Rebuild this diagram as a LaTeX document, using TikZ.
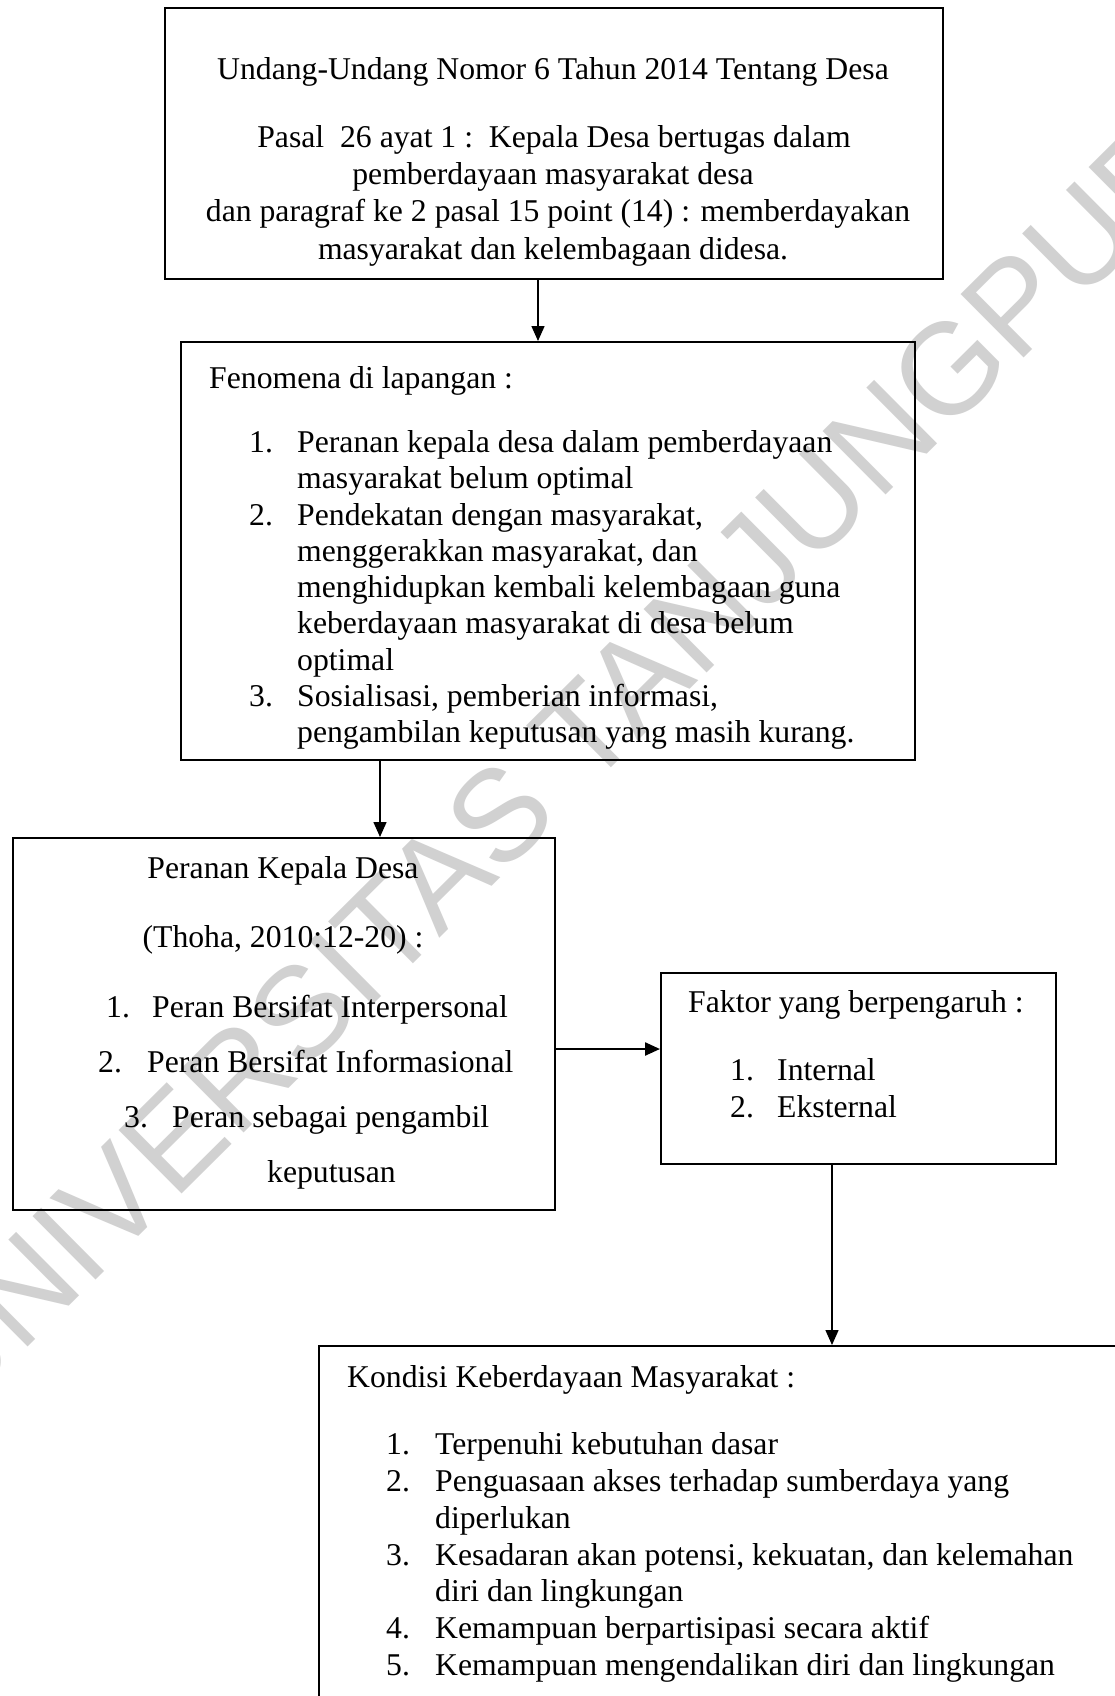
\documentclass[tikz,border=0pt]{standalone}
\usepackage{fontspec}
\setmainfont{Liberation Serif}
\newfontfamily\wmfont{Liberation Sans}
\usetikzlibrary{arrows.meta}
\definecolor{wm}{gray}{0.82}
\begin{document}
\begin{tikzpicture}[x=1pt,y=-1pt,
  box/.style={draw=black, line width=1.7pt, rectangle, inner sep=0pt, anchor=north west},
  txt/.style={inner sep=0pt, anchor=base, font=\fontsize{31.7}{36.5}\selectfont},
  ltxt/.style={txt, anchor=base west},
  arr/.style={line width=1.5pt, -{Triangle[length=15pt,width=13pt]}},
]
\useasboundingbox (0,0) rectangle (1115,1696);
\clip (0,0) rectangle (1115,1696);
\fill[white] (0,0) rectangle (1115,1696);

% watermark
\node[inner sep=0pt, rotate=44.8, text=wm, font=\wmfont\fontsize{130}{130}\selectfont] (wmk) at (582,734) {UNIVERSITAS TANJUNGPURA};

% boxes
\node[box, minimum width=778pt, minimum height=271pt] (b1) at (164,7) {};
\node[box, minimum width=734pt, minimum height=418pt] (b2) at (180,341) {};
\node[box, minimum width=542pt, minimum height=372pt] (b3) at (12,837) {};
\node[box, minimum width=395pt, minimum height=191pt] (b4) at (660,972) {};
\node[box, line width=2.1pt, minimum width=850pt, minimum height=400pt] (b5) at (318,1345) {};

% box 1 text
\node[txt] (t1a) at (553,80) {Undang-Undang Nomor 6 Tahun 2014 Tentang Desa};
\node[txt] (t1b) at (554,148) {Pasal\ \ 26 ayat 1 :\ \ Kepala Desa bertugas dalam};
\node[txt] (t1c) at (553,185) {pemberdayaan masyarakat desa};
\node[txt] (t1d) at (558,222) {dan paragraf ke 2 pasal 15 point (14) : memberdayakan};
\node[txt] (t1e) at (553,259) {masyarakat dan kelembagaan didesa.};

% box 2 text (last line clipped by the box)
\begin{scope}
\clip (180,341) rectangle (914,748);
\node[ltxt] (t2a) at (209,388) {Fenomena di lapangan :};
\node[ltxt] (n21) at (249,452) {1.};
\node[ltxt] (t21) at (297,452) {Peranan kepala desa dalam pemberdayaan};
\node[ltxt] (t22) at (297,488) {masyarakat belum optimal};
\node[ltxt] (n22) at (249,525) {2.};
\node[ltxt] (t23) at (297,525) {Pendekatan dengan masyarakat,};
\node[ltxt] (t24) at (297,561) {menggerakkan masyarakat, dan};
\node[ltxt] (t25) at (297,597) {menghidupkan kembali kelembagaan guna};
\node[ltxt] (t26) at (297,633) {keberdayaan masyarakat di desa belum};
\node[ltxt] (t27) at (297,670) {optimal};
\node[ltxt] (n23) at (249,706) {3.};
\node[ltxt] (t28) at (297,706) {Sosialisasi, pemberian informasi,};
\node[ltxt] (t29) at (297,742) {pengambilan keputusan yang masih kurang.};
\end{scope}

% box 3 text
\node[txt] (t3a) at (283,878) {Peranan Kepala Desa};
\node[txt] (t3b) at (283,947) {(Thoha, 2010:12-20) :};
\node[ltxt] (n31) at (106,1017) {1.};
\node[ltxt] (t31) at (152,1017) {Peran Bersifat Interpersonal};
\node[ltxt] (n32) at (98,1072) {2.};
\node[ltxt] (t32) at (147,1072) {Peran Bersifat Informasional};
\node[ltxt] (n33) at (124,1127) {3.};
\node[ltxt] (t33) at (172,1127) {Peran sebagai pengambil};
\node[ltxt] (t34) at (267,1182) {keputusan};

% box 4 text
\node[ltxt] (t4a) at (688,1012) {Faktor yang berpengaruh :};
\node[ltxt] (n41) at (730,1080) {1.};
\node[ltxt] (t41) at (777,1080) {Internal};
\node[ltxt] (n42) at (730,1117) {2.};
\node[ltxt] (t42) at (777,1117) {Eksternal};

% box 5 text
\node[ltxt] (t5a) at (347,1387) {Kondisi Keberdayaan Masyarakat :};
\node[ltxt] (n51) at (386,1454) {1.};
\node[ltxt] (t51) at (435,1454) {Terpenuhi kebutuhan dasar};
\node[ltxt] (n52) at (386,1491) {2.};
\node[ltxt] (t52) at (435,1491) {Penguasaan akses terhadap sumberdaya yang};
\node[ltxt] (t53) at (435,1528) {diperlukan};
\node[ltxt] (n53) at (386,1565) {3.};
\node[ltxt] (t54) at (435,1565) {Kesadaran akan potensi, kekuatan, dan kelemahan};
\node[ltxt] (t55) at (435,1601) {diri dan lingkungan};
\node[ltxt] (n54) at (386,1638) {4.};
\node[ltxt] (t56) at (435,1638) {Kemampuan berpartisipasi secara aktif};
\node[ltxt] (n55) at (386,1675) {5.};
\node[ltxt] (t57) at (435,1675) {Kemampuan mengendalikan diri dan lingkungan};

% connectors
\coordinate (c1) at (538,0);
\coordinate (c2) at (380,0);
\coordinate (c3) at (0,1049);
\coordinate (c4) at (832,0);
\draw[arr] (b1.south -| c1) -- (b2.north -| c1);
\draw[arr] (b2.south -| c2) -- (b3.north -| c2);
\draw[arr, line width=2.4pt] (b3.east |- c3) -- (b4.west |- c3);
\draw[arr] (b4.south -| c4) -- (b5.north -| c4);
\end{tikzpicture}
\end{document}
